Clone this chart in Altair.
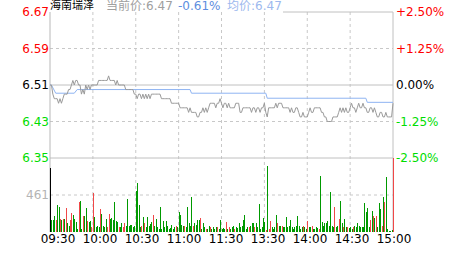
import altair as alt
import pandas as pd

# ---------------- data ----------------
STOCK_NAME = "海南瑞泽"
CUR_PRICE_TEXT = "当前价:6.47"
CHANGE_TEXT = "-0.61%"
AVG_TEXT = "均价:6.47"

PRICE_TICKS = [6.67, 6.59, 6.51, 6.43, 6.35]
PCT_LABELS = ["+2.50%", "+1.25%", "0.00%", "-1.25%", "-2.50%"]
TICK_DIR = ["up", "up", "flat", "down", "down"]
PRICE_DASHED = [6.59, 6.43]
PRICE_SOLID = [6.51, 6.35]
VOL_MID = 461
VOL_MAX = 922
TIME_LABELS = ["09:30", "10:00", "10:30", "11:00", "11:30", "13:30", "14:00", "14:30", "15:00"]
GRID_MINUTES = [30, 60, 90, 120, 150, 180, 210]

PRICES = [
    6.51, 6.51, 6.49, 6.48, 6.48, 6.48, 6.47, 6.48, 6.47, 6.48,
    6.49, 6.49, 6.49, 6.50, 6.50, 6.51, 6.52, 6.51, 6.52, 6.52,
    6.51, 6.51, 6.49, 6.50, 6.49, 6.51, 6.50, 6.51, 6.50, 6.51,
    6.51, 6.51, 6.51, 6.51, 6.52, 6.52, 6.52, 6.52, 6.52, 6.52,
    6.52, 6.53, 6.52, 6.52, 6.52, 6.52, 6.51, 6.52, 6.51, 6.51,
    6.51, 6.51, 6.51, 6.50, 6.50, 6.50, 6.50, 6.50, 6.50, 6.49,
    6.49, 6.48, 6.49, 6.49, 6.48, 6.49, 6.48, 6.49, 6.48, 6.49,
    6.48, 6.49, 6.49, 6.49, 6.49, 6.49, 6.49, 6.49, 6.48, 6.48,
    6.48, 6.48, 6.48, 6.48, 6.48, 6.47, 6.47, 6.47, 6.47, 6.47,
    6.47, 6.46, 6.46, 6.46, 6.46, 6.46, 6.46, 6.45, 6.46, 6.45,
    6.45, 6.45, 6.45, 6.44, 6.44, 6.45, 6.45, 6.46, 6.45, 6.46,
    6.45, 6.46, 6.47, 6.47, 6.47, 6.47, 6.46, 6.47, 6.47, 6.48,
    6.47, 6.46, 6.47, 6.47, 6.46, 6.47, 6.46, 6.46, 6.46, 6.46,
    6.47, 6.47, 6.47, 6.45, 6.45, 6.46, 6.46, 6.46, 6.46, 6.46,
    6.46, 6.45, 6.46, 6.46, 6.45, 6.46, 6.46, 6.45, 6.46, 6.46,
    6.47, 6.45, 6.44, 6.46, 6.46, 6.46, 6.46, 6.46, 6.47, 6.46,
    6.47, 6.47, 6.47, 6.46, 6.46, 6.46, 6.46, 6.46, 6.45, 6.46,
    6.45, 6.45, 6.46, 6.46, 6.45, 6.44, 6.44, 6.45, 6.44, 6.44,
    6.44, 6.45, 6.46, 6.45, 6.45, 6.46, 6.46, 6.46, 6.46, 6.46,
    6.45, 6.45, 6.44, 6.44, 6.43, 6.43, 6.43, 6.43, 6.44, 6.44,
    6.44, 6.44, 6.45, 6.46, 6.45, 6.46, 6.45, 6.46, 6.45, 6.45,
    6.46, 6.47, 6.46, 6.46, 6.45, 6.46, 6.47, 6.46, 6.46, 6.47,
    6.46, 6.46, 6.45, 6.45, 6.46, 6.46, 6.45, 6.46, 6.45, 6.44,
    6.44, 6.45, 6.45, 6.44, 6.44, 6.45, 6.44, 6.44, 6.44, 6.44,
    6.47,
]

AVG_MINUTES = [0, 1, 4, 17, 19, 98, 99, 151, 152, 221, 222, 240]
AVG_PRICES = [6.51, 6.51, 6.492, 6.492, 6.50, 6.50, 6.492, 6.492, 6.481, 6.481, 6.472, 6.472]

VOLUMES = [
    793, 149, 149, 199, 149, 336, 315, 162, 149, 162,
    162, 295, 108, 75, 149, 241, 212, 162, 129, 33,
    378, 386, 33, 199, 199, 295, 141, 129, 141, 66,
    481, 191, 58, 75, 58, 286, 224, 75, 58, 162,
    66, 224, 162, 178, 149, 378, 137, 129, 66, 66,
    108, 66, 108, 75, 411, 75, 87, 87, 58, 75,
    515, 606, 336, 66, 79, 183, 116, 66, 183, 75,
    100, 129, 212, 75, 158, 58, 33, 315, 33, 137,
    58, 137, 75, 33, 46, 87, 33, 58, 75, 58,
    253, 212, 87, 75, 75, 58, 315, 108, 75, 440,
    75, 116, 87, 149, 149, 170, 33, 116, 58, 33,
    33, 75, 58, 33, 58, 33, 58, 58, 33, 149,
    33, 46, 33, 129, 33, 58, 33, 58, 75, 33,
    58, 46, 108, 58, 75, 149, 212, 33, 58, 58,
    75, 108, 108, 58, 116, 58, 349, 33, 58, 170,
    129, 25, 822, 33, 137, 58, 33, 58, 212, 116,
    75, 75, 75, 58, 58, 183, 58, 75, 149, 58,
    33, 58, 75, 199, 75, 33, 58, 75, 58, 33,
    137, 58, 58, 75, 33, 33, 58, 46, 33, 697,
    129, 75, 116, 108, 141, 75, 502, 75, 58, 307,
    58, 75, 162, 386, 108, 58, 158, 58, 58, 46,
    58, 33, 58, 75, 58, 116, 75, 58, 66, 58,
    365, 253, 295, 58, 149, 266, 199, 170, 199, 58,
    357, 286, 75, 432, 369, 685, 33, 17, 17, 25,
    917,
]

VOL_DIR = list(
    "kgggrggrgr" "grggrrgggg" "rggrggrggr" "rggggrgggg" "rrggggggrg"
    "grrggggggg" "ggggrgrggg" "ggrggggggg" "ggggggggrg" "ggggrggggg"
    "rggggrgggr" "ggrggggrgg" "gggrgrgggr" "gggggggggr" "gggrgggggg"
    "grgrrggggr" "ggrggggggg" "gggggggrgg" "rggrggggrg" "gggggggggr"
    "ggrggrggrg" "ggrggggggg" "ggggrgrgrg" "ggrgrggggg" "r"
)

# ---------------- styling ----------------
FONT = "DejaVu Sans, Noto Sans CJK SC"
W, H, PH = 343, 220, 146
LABEL_COLORS = {"up": "#ff0000", "flat": "#000000", "down": "#00dd00"}
BAR_COLORS = {"k": "#000000", "r": "#f04848", "g": "#009900"}
GRID = "#c8c8c8"
SOLID = "#c0c0c0"

X = alt.Scale(domain=[0, 240], range=[0, W], nice=False, zero=False)
XB = alt.Scale(domain=[0, 240], range=[0, W], nice=False, zero=False, round=True)
YP = alt.Scale(domain=[6.35, 6.67], range=[PH, 0], nice=False, zero=False)
YV = alt.Scale(domain=[0, VOL_MAX], range=[H, PH], nice=False, zero=False, round=True)

n = min(len(PRICES), len(VOLUMES), len(VOL_DIR))
df_price = pd.DataFrame({"m": list(range(len(PRICES))), "p": PRICES})
df_avg = pd.DataFrame({"m": AVG_MINUTES, "p": AVG_PRICES})
df_vol = pd.DataFrame({"m": list(range(n)), "v": VOLUMES[:n],
                       "c": [BAR_COLORS[d] for d in VOL_DIR[:n]]})
df_ticks = pd.DataFrame({
    "p": PRICE_TICKS,
    "lbl": [f"{p:.2f}" for p in PRICE_TICKS],
    "pct": PCT_LABELS,
    "c": [LABEL_COLORS[d] for d in TICK_DIR],
})
df_one = pd.DataFrame({"a": [0]})

vgrid = alt.Chart(pd.DataFrame({"m": GRID_MINUTES})).mark_rule(
    color=GRID, strokeDash=[3, 3], strokeWidth=1
).encode(x=alt.X("m:Q", scale=X, axis=None), y=alt.value(0), y2=alt.value(H))

hgrid = alt.Chart(pd.DataFrame({"p": PRICE_DASHED})).mark_rule(
    color=GRID, strokeDash=[3, 3], strokeWidth=1
).encode(y=alt.Y("p:Q", scale=YP, axis=None), x=alt.value(0), x2=alt.value(W))

hsolid = alt.Chart(pd.DataFrame({"p": PRICE_SOLID})).mark_rule(
    color=SOLID, strokeWidth=1
).encode(y=alt.Y("p:Q", scale=YP, axis=None), x=alt.value(0), x2=alt.value(W))

vgridv = alt.Chart(pd.DataFrame({"v": [VOL_MID]})).mark_rule(
    color=GRID, strokeDash=[3, 3], strokeWidth=1
).encode(y=alt.Y("v:Q", scale=YV, axis=None), x=alt.value(0), x2=alt.value(W))

left_border = alt.Chart(df_one).mark_rule(color="#b8b8b8", strokeWidth=1).encode(
    x=alt.value(0), y=alt.value(0), y2=alt.value(H))
right_border = alt.Chart(df_one).mark_rule(color=SOLID, strokeWidth=1).encode(
    x=alt.value(W), y=alt.value(0), y2=alt.value(H))
top_border = alt.Chart(df_one).mark_rule(color=SOLID, strokeWidth=1).encode(
    x=alt.value(233), x2=alt.value(W), y=alt.value(0))

bars = alt.Chart(df_vol).mark_rule(strokeWidth=1, xOffset=0.5).encode(
    x=alt.X("m:Q", scale=XB, axis=None),
    y=alt.Y("v:Q", scale=YV, axis=None),
    y2=alt.value(H),
    color=alt.Color("c:N", scale=None),
)

avg_line = alt.Chart(df_avg).mark_line(color="#8fb4f2", strokeWidth=1).encode(
    x=alt.X("m:Q", scale=X, axis=None), y=alt.Y("p:Q", scale=YP, axis=None))

price_line = alt.Chart(df_price).mark_line(color="#9a9a9a", strokeWidth=1).encode(
    x=alt.X("m:Q", scale=X, axis=None), y=alt.Y("p:Q", scale=YP, axis=None))

left_labels = alt.Chart(df_ticks).mark_text(
    align="right", baseline="middle", font=FONT, fontSize=12
).encode(x=alt.value(-1), y=alt.Y("p:Q", scale=YP, axis=None),
         text="lbl:N", color=alt.Color("c:N", scale=None))

right_labels = alt.Chart(df_ticks).mark_text(
    align="left", baseline="middle", font=FONT, fontSize=12
).encode(x=alt.value(346), y=alt.Y("p:Q", scale=YP, axis=None),
         text="pct:N", color=alt.Color("c:N", scale=None))

vol_label = alt.Chart(pd.DataFrame({"v": [VOL_MID]})).mark_text(
    align="right", baseline="middle", font=FONT, fontSize=12, color="#b4b4b4"
).encode(x=alt.value(-1), y=alt.Y("v:Q", scale=YV, axis=None), text="v:Q")

time_df = pd.DataFrame({"i": list(range(len(TIME_LABELS))), "t": TIME_LABELS})
time_labels = alt.Chart(time_df).mark_text(
    align="center", baseline="middle", font=FONT, fontSize=12, color="#000000"
).encode(x=alt.X("i:Q", scale=alt.Scale(domain=[0, len(TIME_LABELS) - 1], range=[8, 344],
                                          nice=False, zero=False), axis=None),
         y=alt.value(227), text="t:N")

title_parts = [
    (STOCK_NAME, 0, "#000000", 11),
    (CUR_PRICE_TEXT, 56, "#a0a0a0", 12),
    (CHANGE_TEXT, 128, "#5d8ee0", 12),
    (AVG_TEXT, 177, "#9db9ee", 12),
]
title_layers = []
for txt, xpos, col, fs in title_parts:
    title_layers.append(
        alt.Chart(pd.DataFrame({"t": [txt]})).mark_text(
            align="left", baseline="middle", font=FONT, fontSize=fs, color=col
        ).encode(x=alt.value(xpos), y=alt.value(-6), text="t:N")
    )

chart = alt.layer(
    vgrid, hgrid, vgridv, hsolid, top_border, left_border, right_border,
    bars, avg_line, price_line, left_labels, right_labels, vol_label, time_labels,
    *title_layers,
).resolve_scale(x="independent", y="independent").properties(
    width=W, height=H,
    padding={"left": 50, "top": 12, "right": 70, "bottom": 23},
    autosize=alt.AutoSizeParams(type="none"),
    background="#ffffff",
).configure_view(stroke=None)

chart.save("out.html", embed_options={"renderer": "svg", "actions": False})
